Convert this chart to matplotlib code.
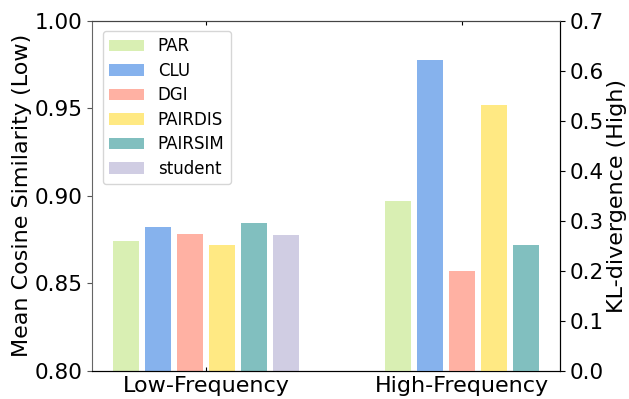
import matplotlib
matplotlib.use("Agg")
import matplotlib.pyplot as plt
import numpy as np

groups = ["Low-Frequency", "High-Frequency"]
methods = ["PAR", "CLU", "DGI", "PAIRDIS", "PAIRSIM", "student"]
colors = ["#d9efb3", "#86b2ed", "#ffb1a3", "#ffe983", "#81bfbf", "#d0cde3"]
low_vals = [0.8744, 0.8824, 0.8784, 0.8716, 0.8847, 0.8778]
high_methods = ["PAR", "CLU", "DGI", "PAIRDIS", "PAIRSIM"]
high_vals = [0.340, 0.622, 0.200, 0.531, 0.251]

fig = plt.figure(figsize=(6.29, 3.99), dpi=100)
ax1 = fig.add_axes([0.1463, 0.0705, 0.7440, 0.8780])
ax2 = ax1.twinx()

w = 0.1
step = 0.125
n_low = len(low_vals)
for i, (m, v) in enumerate(zip(methods, low_vals)):
    x = 0 + (i - (n_low - 1) / 2) * step
    ax1.bar(x, v - 0.8, bottom=0.8, width=w, color=colors[i], label=m)

n_high = len(high_vals)
for i, (m, v) in enumerate(zip(high_methods, high_vals)):
    x = 1 + (i - (n_high - 1) / 2) * step
    ax2.bar(x, v, width=w, color=colors[methods.index(m)])

ax1.set_ylim(0.80, 1.00)
ax1.set_yticks([0.80, 0.85, 0.90, 0.95, 1.00])
ax1.set_yticklabels(["0.80", "0.85", "0.90", "0.95", "1.00"])
ax2.set_ylim(0.0, 0.7)
ax2.set_yticks(np.round(np.arange(0, 0.71, 0.1), 1))
ax2.set_yticklabels(["0.0", "0.1", "0.2", "0.3", "0.4", "0.5", "0.6", "0.7"])

ax1.set_xticks([0, 1])
ax1.set_xticklabels(groups)
ax1.set_xlim(-0.445, 1.383)

ax1.tick_params(axis="y", labelsize=15.5, color="#555555")
ax2.tick_params(axis="y", labelsize=15.5)
ax1.tick_params(axis="x", labelsize=16, direction="in", length=3, top=True, pad=4)

ax1.set_ylabel("Mean Cosine Similarity (Low)", fontsize=16, labelpad=2)
ax2.set_ylabel("KL-divergence (High)", fontsize=16, labelpad=2)

ax1.spines["left"].set_color("#666666")
ax1.spines["top"].set_color("#444444")
ax2.spines["left"].set_visible(False)
ax2.spines["top"].set_color("#444444")

ax1.legend(loc="upper left", fontsize=12, frameon=True, handlelength=2.1,
           labelspacing=0.39, bbox_to_anchor=(0.005, 0.995))

fig.savefig("out.png", dpi=100)
